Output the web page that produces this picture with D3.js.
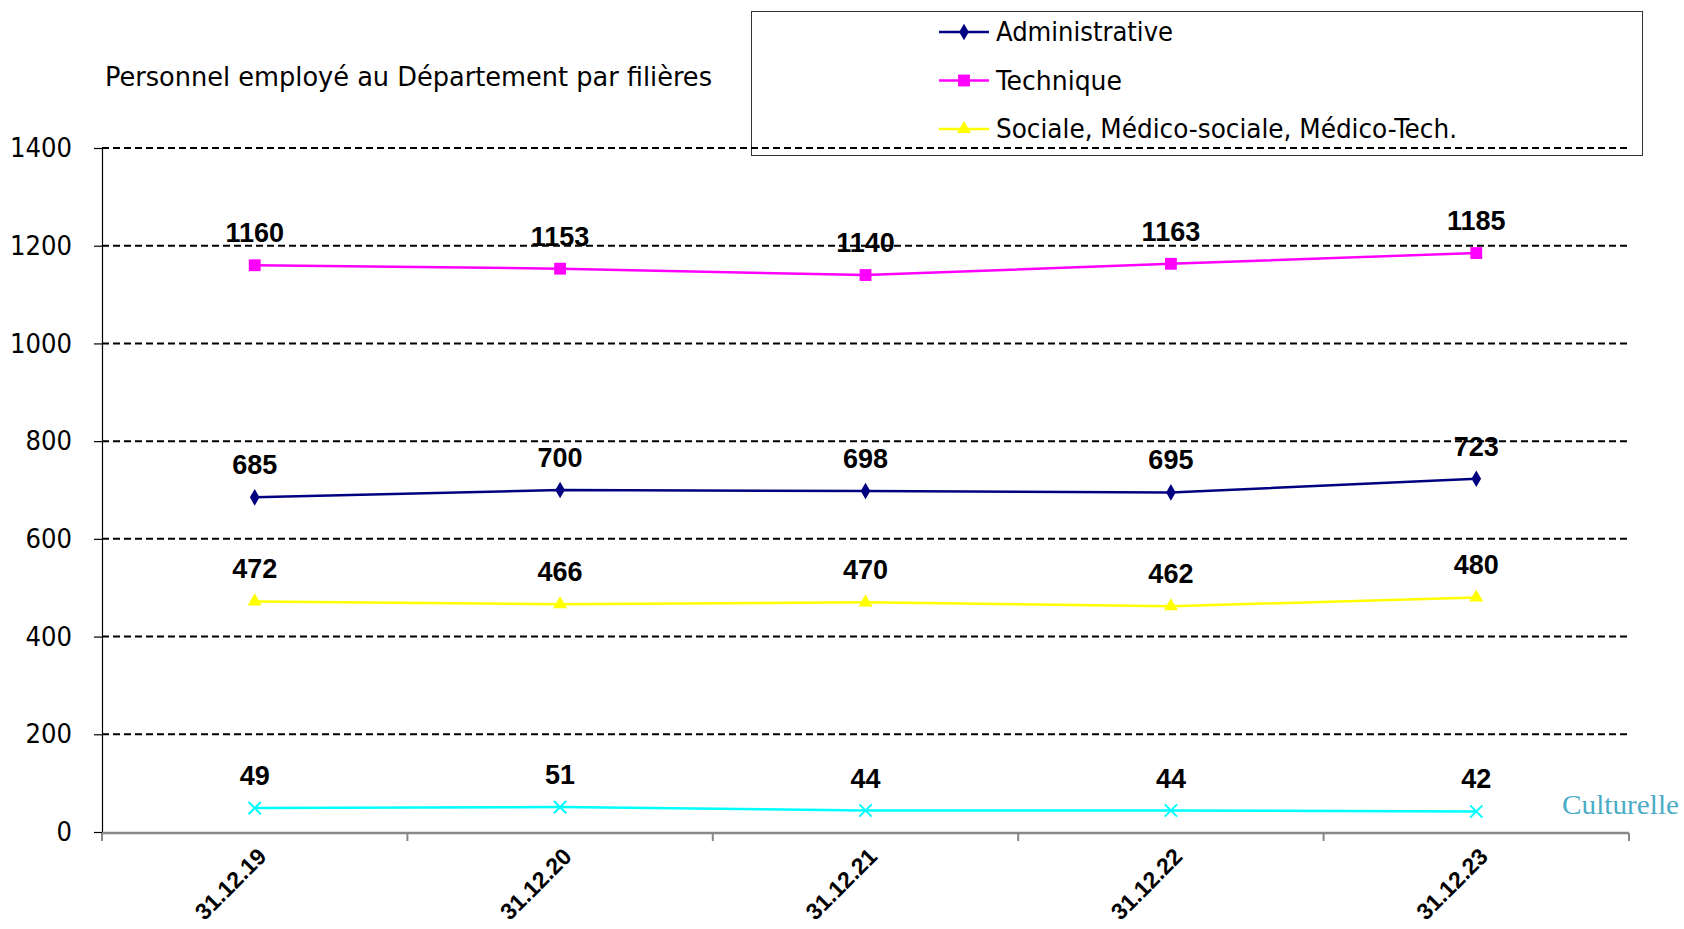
<!DOCTYPE html>
<html>
<head>
<meta charset="utf-8">
<script src="https://cdn.jsdelivr.net/npm/d3@7"></script>
<style>
  html, body { margin: 0; padding: 0; background: #fff; }
  svg { display: block; }
</style>
</head>
<body>
<div id="chart"></div>
<script>
// data
const categories = ["31.12.19", "31.12.20", "31.12.21", "31.12.22", "31.12.23"];
const administrative = [685, 700, 698, 695, 723];
const technique = [1160, 1153, 1140, 1163, 1185];
const sociale = [472, 466, 470, 462, 480];
const culturelle = [49, 51, 44, 44, 42];
const yTicks = [0, 200, 400, 600, 800, 1000, 1200, 1400];

const condensed = "'DejaVu Sans Condensed', 'Liberation Sans Narrow', 'Noto Sans', sans-serif";
const bold = "'Liberation Sans', Arial, sans-serif";

const W = 1684, H = 929;
const svg = d3.select("#chart").append("svg")
    .attr("width", W)
    .attr("height", H);

// scales
const x = d3.scaleBand()
    .domain(categories)
    .range([102, 1629]);

const y = d3.scaleLinear()
    .domain([0, 1400])
    .range([832, 148]);

const cx = d => x(d) + x.bandwidth() / 2;

// title
svg.append("text")
    .attr("x", 105)
    .attr("y", 86)
    .attr("font-family", condensed)
    .attr("font-size", 26)
    .attr("textLength", 607)
    .attr("lengthAdjust", "spacingAndGlyphs")
    .text("Personnel employé au Département par filières");

// legend (drawn before the grid, grid line runs across it)
const legend = svg.append("g");
legend.append("rect")
    .attr("x", 751.5).attr("y", 11.5)
    .attr("width", 891).attr("height", 144)
    .attr("fill", "#fff")
    .attr("stroke", "#333")
    .attr("stroke-width", 1);

// grid lines
svg.append("g")
    .selectAll("line")
    .data(yTicks.filter(v => v > 0))
    .join("line")
    .attr("x1", x.range()[0])
    .attr("x2", x.range()[1])
    .attr("y1", d => y(d))
    .attr("y2", d => y(d))
    .attr("stroke", "#000")
    .attr("stroke-width", 2)
    .attr("stroke-dasharray", "7,4");

// y axis
const yAxis = svg.append("g")
    .attr("transform", "translate(102,0)")
    .call(d3.axisLeft(y).tickValues(yTicks).tickFormat(d3.format("d")).tickSize(8).tickPadding(22));
yAxis.select(".domain").attr("stroke", "#000").attr("stroke-width", 1.2);
yAxis.selectAll(".tick line").attr("stroke", "#000").attr("stroke-width", 1.2);
yAxis.selectAll(".tick text")
    .attr("font-family", condensed)
    .attr("font-size", 27)
    .attr("fill", "#000")
    .attr("textLength", d => String(d).length * 15.5)
    .attr("lengthAdjust", "spacingAndGlyphs");

// x axis: line and ticks at the band edges
const xAxisG = svg.append("g");
xAxisG.append("line")
    .attr("x1", x.range()[0]).attr("x2", x.range()[1])
    .attr("y1", 833).attr("y2", 833)
    .attr("stroke", "#888").attr("stroke-width", 2.5);
const edges = categories.map(c => x(c)).concat([x.range()[1]]);
xAxisG.selectAll("line.tk")
    .data(edges)
    .join("line")
    .attr("class", "tk")
    .attr("x1", d => d).attr("x2", d => d)
    .attr("y1", 833).attr("y2", 841)
    .attr("stroke", "#888").attr("stroke-width", 2);
xAxisG.selectAll("text")
    .data(categories)
    .join("text")
    .attr("transform", d => `translate(${cx(d) + 13},${858}) rotate(-45)`)
    .attr("text-anchor", "end")
    .attr("font-family", bold)
    .attr("font-weight", "bold")
    .attr("font-size", 23)
    .text(d => d);

// series
const series = [
    { name: "Administrative", values: administrative, color: "#000080", symbol: d3.symbolDiamond, size: 80 },
    { name: "Technique", values: technique, color: "#ff00ff", symbol: d3.symbolSquare, size: 140 },
    { name: "Sociale, Médico-sociale, Médico-Tech.", values: sociale, color: "#ffff00", symbol: d3.symbolTriangle, size: 85 },
    { name: "Culturelle", values: culturelle, color: "#00ffff", symbol: d3.symbolX, size: 100 }
];

const line = d3.line()
    .x((v, i) => cx(categories[i]))
    .y(v => y(v));

series.forEach(s => {
    const g = svg.append("g");
    g.append("path")
        .datum(s.values)
        .attr("fill", "none")
        .attr("stroke", s.color)
        .attr("stroke-width", 2.5)
        .attr("d", line);

    const isX = s.symbol === d3.symbolX;
    g.selectAll("path.m")
        .data(s.values)
        .join("path")
        .attr("class", "m")
        .attr("transform", (v, i) => `translate(${cx(categories[i])},${y(v)})`)
        .attr("d", d3.symbol(s.symbol, s.size))
        .attr("fill", isX ? "none" : s.color)
        .attr("stroke", isX ? s.color : "none")
        .attr("stroke-width", 2);

    g.selectAll("text")
        .data(s.values)
        .join("text")
        .attr("x", (v, i) => cx(categories[i]))
        .attr("y", v => y(v) - 23)
        .attr("text-anchor", "middle")
        .attr("font-family", bold)
        .attr("font-weight", "bold")
        .attr("font-size", 27)
        .attr("fill", "#000")
        .text(v => v);
});

// legend entries (first three series)
const legendRows = [32, 80.5, 129];
const lengths = [177, 126, 461];
series.slice(0, 3).forEach((s, i) => {
    const row = legend.append("g").attr("transform", `translate(0,${legendRows[i]})`);
    row.append("line")
        .attr("x1", 939).attr("x2", 989)
        .attr("stroke", s.color).attr("stroke-width", 2.5);
    row.append("path")
        .attr("transform", "translate(964,0)")
        .attr("d", d3.symbol(s.symbol, s.size))
        .attr("fill", s.color);
    row.append("text")
        .attr("x", 996)
        .attr("y", 9)
        .attr("font-family", condensed)
        .attr("font-size", 26)
        .attr("textLength", lengths[i])
        .attr("lengthAdjust", "spacingAndGlyphs")
        .text(s.name);
});

// label for the last series, at the right end
svg.append("text")
    .attr("x", 1562)
    .attr("y", 814)
    .attr("font-family", "'Liberation Serif', 'Times New Roman', serif")
    .attr("font-size", 28)
    .attr("fill", "#4bacc6")
    .attr("textLength", 117)
    .attr("lengthAdjust", "spacingAndGlyphs")
    .text(series[3].name);
</script>
</body>
</html>
